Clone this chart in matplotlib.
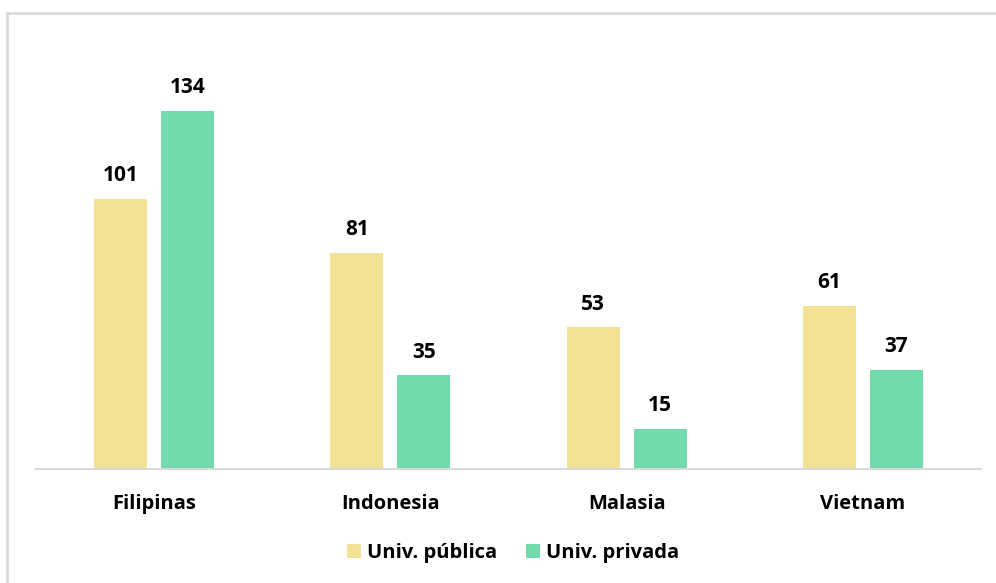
import numpy as np
import matplotlib.pyplot as plt
from matplotlib.patches import Rectangle

plt.rcParams['font.family'] = ['Open Sans', 'DejaVu Sans']

countries = ["Filipinas", "Indonesia", "Malasia", "Vietnam"]
publica = [101, 81, 53, 61]
privada = [134, 35, 15, 37]
series_names = ["Univ. pública", "Univ. privada"]

col_pub = "#F2E394"
col_priv = "#72DBAB"

fig = plt.figure(figsize=(9.96, 5.83), dpi=100)
fig.patch.set_facecolor("white")

# outer frame of the chart area
fig.patches.append(Rectangle((7 / 996, -0.01), 1.0, (583 - 13) / 583 + 0.01,
                             transform=fig.transFigure, fill=False,
                             edgecolor="#D9D9D9", linewidth=2))

ax = fig.add_axes([36 / 996, 114 / 583, 945 / 996, 428 / 583])

x = np.arange(len(countries))
w = 0.224
off = 0.1417
b1 = ax.bar(x - off, publica, w, color=col_pub, label=series_names[0])
b2 = ax.bar(x + off, privada, w, color=col_priv, label=series_names[1])

for bars, vals in ((b1, publica), (b2, privada)):
    for rect, v in zip(bars, vals):
        ax.text(rect.get_x() + rect.get_width() / 2, v + 4.8, str(v),
                ha="center", va="bottom", fontsize=15, fontweight="bold")

ax.set_xlim(-0.5, 3.5)
ax.set_ylim(0, 160.2)
ax.set_xticks(x)
ax.set_xticklabels(countries, fontsize=14.5, fontweight="bold")
ax.tick_params(axis="x", length=0, pad=18)
ax.set_yticks([])
for s in ("top", "right", "left"):
    ax.spines[s].set_visible(False)
ax.spines["bottom"].set_color("#D9D9D9")
ax.spines["bottom"].set_linewidth(1.5)

fig.legend(loc="center", bbox_to_anchor=(513 / 996, 1 - 553 / 583), ncol=2,
           frameon=False, handlelength=0.7, handleheight=0.7,
           handletextpad=0.3, columnspacing=1.4,
           prop={"size": 14.5, "weight": "bold"})

fig.savefig("out.png", dpi=100)
